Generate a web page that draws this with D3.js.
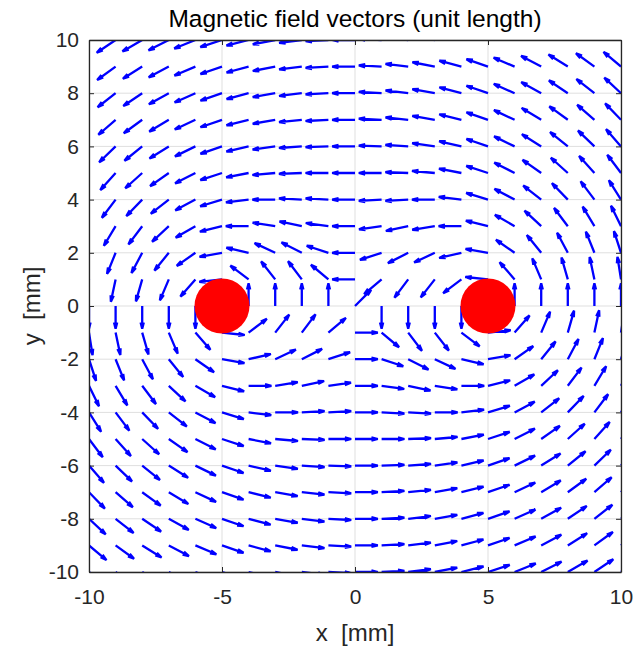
<!DOCTYPE html>
<html>
<head>
<meta charset="utf-8">
<script src="https://cdn.jsdelivr.net/npm/d3@7"></script>
<style>
  body { margin: 0; background: #fff; }
  text { font-family: "Liberation Sans", Arial, sans-serif; }
</style>
</head>
<body>
<div id="chart"></div>
<script>
const xGrid = [-10, -9, -8, -7, -6, -5, -4, -3, -2, -1, 0, 1, 2, 3, 4, 5, 6, 7, 8, 9, 10];
const yGrid = [10, 9, 8, 7, 6, 5, 4, 3, 2, 1, 0, -1, -2, -3, -4, -5, -6, -7, -8, -9, -10];

// direction of each unit arrow in degrees (counter-clockwise from +x), one row per yGrid value
const fieldAngle = [
  [-142, -146, -150, -153, -158, -162, -166, -169, -173, -177, 180, 177, 173, 169, 166, 162, 158, 153, 150, 146, 142],
  [-140, -144, -148, -152, -157, -161, -165, -169, -173, -177, 180, 177, 173, 169, 165, 161, 157, 152, 148, 144, 140],
  [-137, -142, -146, -151, -156, -161, -165, -170, -173, -177, 180, 177, 173, 170, 165, 161, 156, 151, 146, 142, 137],
  [-134, -139, -144, -149, -155, -161, -166, -170, -174, -177, 180, 177, 174, 170, 166, 161, 155, 149, 144, 139, 134],
  [-131, -136, -141, -148, -154, -161, -167, -172, -176, -178, 180, 178, 176, 172, 167, 161, 154, 148, 141, 136, 131],
  [-127, -132, -138, -145, -153, -162, -169, -175, -178, 180, 180, 180, 178, 175, 169, 162, 153, 145, 138, 132, 127],
  [-122, -127, -134, -142, -152, -163, -173, 180, 177, 177, 180, -177, -177, 180, 173, 163, 152, 142, 134, 127, 122],
  [-116, -121, -127, -137, -150, -166, 180, 171, 168, 172, 180, -172, -168, -171, 180, 166, 150, 137, 127, 121, 116],
  [-108, -112, -118, -129, -145, -170, 167, 155, 153, 162, 180, -162, -153, -155, -167, 170, 145, 129, 118, 112, 108],
  [-99, -102, -106, -113, -131, -174, 143, 128, 127, 140, 180, -140, -127, -128, -143, 174, 131, 113, 106, 102, 99],
  [-90, -90, -90, -90, -90, null, 90, 90, 90, 90, 45, -90, -90, -90, -90, null, 90, 90, 90, 90, 90],
  [-81, -78, -74, -67, -49, -6, 37, 52, 53, 40, 0, -40, -53, -52, -37, 6, 49, 67, 74, 78, 81],
  [-72, -68, -62, -51, -35, -10, 13, 25, 27, 18, 0, -18, -27, -25, -13, 10, 35, 51, 62, 68, 72],
  [-64, -59, -53, -43, -30, -14, 0, 9, 12, 8, 0, -8, -12, -9, 0, 14, 30, 43, 53, 59, 64],
  [-58, -53, -46, -38, -28, -17, -7, 0, 3, 3, 0, -3, -3, 0, 7, 17, 28, 38, 46, 53, 58],
  [-53, -48, -42, -35, -27, -18, -11, -5, -2, 0, 0, 0, 2, 5, 11, 18, 27, 35, 42, 48, 53],
  [-49, -44, -39, -32, -26, -19, -13, -8, -4, -2, 0, 2, 4, 8, 13, 19, 26, 32, 39, 44, 49],
  [-46, -41, -36, -31, -25, -19, -14, -10, -6, -3, 0, 3, 6, 10, 14, 19, 25, 31, 36, 41, 46],
  [-43, -38, -34, -29, -24, -19, -15, -10, -7, -3, 0, 3, 7, 10, 15, 19, 24, 29, 34, 38, 43],
  [-40, -36, -32, -28, -23, -19, -15, -11, -7, -3, 0, 3, 7, 11, 15, 19, 23, 28, 32, 36, 40],
  [-38, -34, -30, -27, -22, -18, -14, -11, -7, -3, 0, 3, 7, 11, 14, 18, 22, 27, 30, 34, 38],
];

const wireX = [-5, 5];
const wireY = [0, 0];

const xTicks = [-10, -5, 0, 5, 10];
const yTicks = [-10, -8, -6, -4, -2, 0, 2, 4, 6, 8, 10];

const WIDTH = 635;
const HEIGHT = 648;
const margin = { left: 89, top: 40, right: 14, bottom: 76 };
const plotW = WIDTH - margin.left - margin.right;
const plotH = HEIGHT - margin.top - margin.bottom;

const ARROWLEN = 0.857; // data units
const AXISCOLOR = "#262626";

const x = d3.scaleLinear().domain([-10, 10]).range([0, plotW]);
const y = d3.scaleLinear().domain([-10, 10]).range([plotH, 0]);

const svg = d3
  .select("#chart")
  .append("svg")
  .attr("width", WIDTH)
  .attr("height", HEIGHT);

svg.append("defs")
  .append("clipPath")
  .attr("id", "plot-clip")
  .append("rect")
  .attr("width", plotW)
  .attr("height", plotH);

const g = svg.append("g").attr("transform", `translate(${margin.left}, ${margin.top})`);

// grid
g.append("g")
  .selectAll("line")
  .data(xTicks)
  .join("line")
  .attr("x1", (d) => x(d))
  .attr("x2", (d) => x(d))
  .attr("y1", 0)
  .attr("y2", plotH)
  .attr("stroke", "#dfdfdf")
  .attr("stroke-width", 1);

g.append("g")
  .selectAll("line")
  .data(yTicks)
  .join("line")
  .attr("x1", 0)
  .attr("x2", plotW)
  .attr("y1", (d) => y(d))
  .attr("y2", (d) => y(d))
  .attr("stroke", "#dfdfdf")
  .attr("stroke-width", 1);

// arrows
const arrows = [];
yGrid.forEach((yv, row) => {
  xGrid.forEach((xv, col) => {
    const a = fieldAngle[row][col];
    if (a === null) return;
    arrows.push({ x: xv, y: yv, a: (a * Math.PI) / 180 });
  });
});

function arrowPath(d) {
  const u = ARROWLEN * Math.cos(d.a);
  const v = ARROWLEN * Math.sin(d.a);
  const tx = d.x + u;
  const ty = d.y + v;
  const b1x = tx - 0.28 * u + 0.07 * v;
  const b1y = ty - 0.28 * v - 0.07 * u;
  const b2x = tx - 0.28 * u - 0.07 * v;
  const b2y = ty - 0.28 * v + 0.07 * u;
  return (
    `M${x(d.x)},${y(d.y)}L${x(tx)},${y(ty)}` +
    `M${x(b1x)},${y(b1y)}L${x(tx)},${y(ty)}L${x(b2x)},${y(b2y)}`
  );
}

g.append("g")
  .attr("clip-path", "url(#plot-clip)")
  .selectAll("path")
  .data(arrows)
  .join("path")
  .attr("d", arrowPath)
  .attr("fill", "none")
  .attr("stroke", "#0000ff")
  .attr("stroke-width", 2.3)
  .attr("stroke-linejoin", "miter");

// wires
g.append("g")
  .selectAll("circle")
  .data(wireX)
  .join("circle")
  .attr("cx", (d) => x(d))
  .attr("cy", (d, i) => y(wireY[i]))
  .attr("r", 27.5)
  .attr("fill", "#ff0000");

// axes, ticks pointing inward on all four sides
const fmt = (d) => String(d);
const styleAxis = (sel) => {
  sel.selectAll("path").attr("stroke", AXISCOLOR);
  sel.selectAll("line").attr("stroke", AXISCOLOR);
  sel.selectAll("text").attr("fill", AXISCOLOR).style("font-size", "21px");
};

g.append("g")
  .attr("transform", `translate(0, ${plotH})`)
  .call(d3.axisBottom(x).tickValues(xTicks).tickFormat(fmt).tickSizeInner(-5).tickSizeOuter(0).tickPadding(17))
  .call(styleAxis);
g.append("g")
  .call(d3.axisTop(x).tickValues(xTicks).tickFormat("").tickSizeInner(-5).tickSizeOuter(0))
  .call(styleAxis);
g.append("g")
  .call(d3.axisLeft(y).tickValues(yTicks).tickFormat(fmt).tickSizeInner(-5).tickSizeOuter(0).tickPadding(10))
  .call(styleAxis);
g.append("g")
  .attr("transform", `translate(${plotW}, 0)`)
  .call(d3.axisRight(y).tickValues(yTicks).tickFormat("").tickSizeInner(-5).tickSizeOuter(0))
  .call(styleAxis);
g.selectAll(".domain").attr("stroke-width", 1.3);

// labels
svg.append("text")
  .attr("x", margin.left + plotW / 2)
  .attr("y", 27)
  .attr("text-anchor", "middle")
  .attr("fill", "#000")
  .style("font-size", "24.5px")
  .text("Magnetic field vectors (unit length)");

svg.append("text")
  .attr("x", margin.left + plotW / 2)
  .attr("y", 641)
  .attr("text-anchor", "middle")
  .attr("fill", AXISCOLOR)
  .style("white-space", "pre")
  .style("font-size", "24px")
  .text("x  [mm]");

svg.append("text")
  .attr("transform", `translate(40, ${margin.top + plotH / 2}) rotate(-90)`)
  .attr("text-anchor", "middle")
  .attr("fill", AXISCOLOR)
  .style("white-space", "pre")
  .style("font-size", "24px")
  .text("y  [mm]");
</script>
</body>
</html>
